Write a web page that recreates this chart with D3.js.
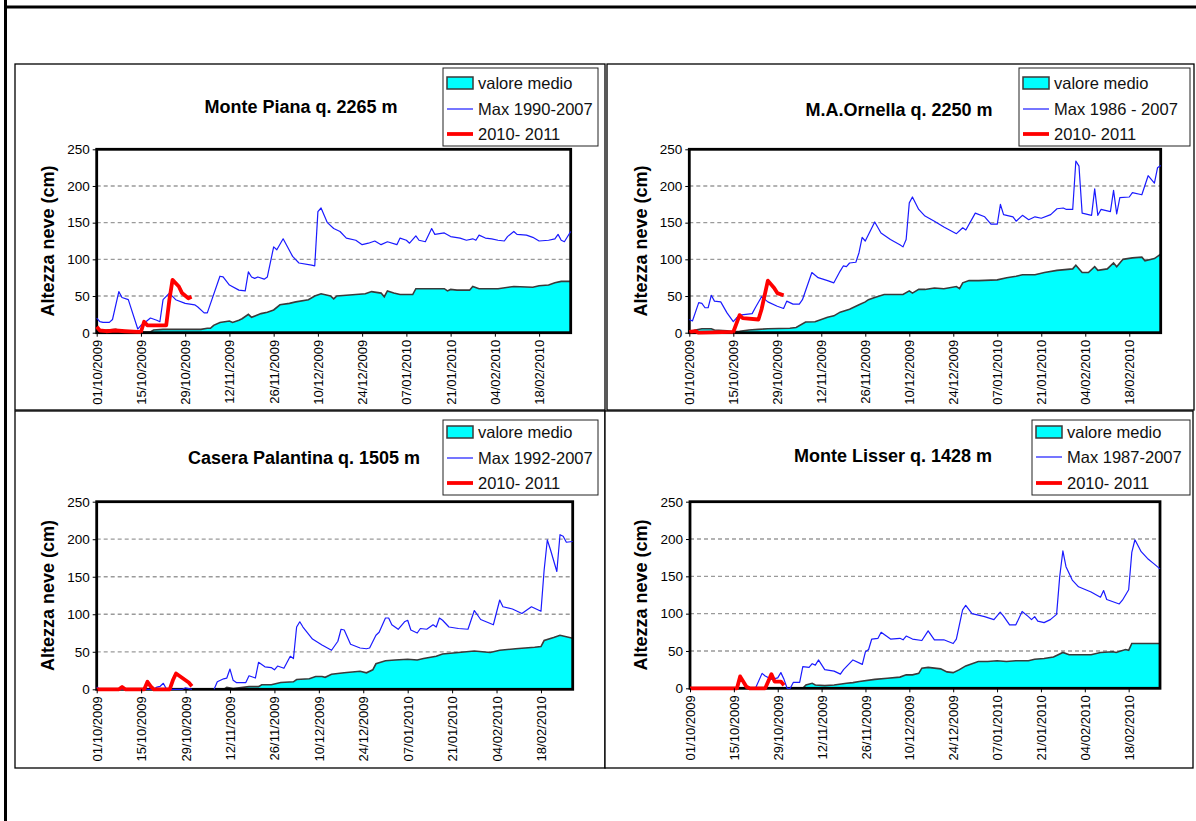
<!DOCTYPE html>
<html>
<head>
<meta charset="utf-8">
<script src="https://cdn.jsdelivr.net/npm/d3@7"></script>
<style>
  html, body { margin: 0; padding: 0; background: #fff; }
  svg { display: block; font-family: "Liberation Sans", Arial, sans-serif; }
</style>
</head>
<body>
<svg id="chart" width="1196" height="821"></svg>
<script>
// Snow depth (cm) at four stations, 1 Oct 2009 – 28 Feb 2010.
// Each series is a list of [day offset from 01/10, depth in cm].

const startDate = "01/10/2009";
const endDate = "28/02/2010";
const tickDates = ["01/10/2009", "15/10/2009", "29/10/2009", "12/11/2009", "26/11/2009",
  "10/12/2009", "24/12/2009", "07/01/2010", "21/01/2010", "04/02/2010", "18/02/2010"];
const yTicks = [0, 50, 100, 150, 200, 250];
const yGrid = [50, 100, 150, 200];
const yTitle = "Altezza neve (cm)";

const stationNames = ["Monte Piana q. 2265 m", "M.A.Ornella q. 2250 m",
  "Casera Palantina q. 1505 m", "Monte Lisser q. 1428 m"];
const meanLabel = "valore medio";
const maxLabels = ["Max 1990-2007", "Max 1986 - 2007", "Max 1992-2007", "Max 1987-2007"];
const seasonLabel = "2010- 2011";

// --- Monte Piana ---
const pianaMedio = [[0,3],[2,3],[6,4.5],[8,2],[13,2],[15,1],[17,1],[18,3.6],[21,4.5],[33,4.5],[35,6],[36,6],[37,10],[39,14],[42,16],[43,14],[45,17],[46,19],[48,25],[49,21],[52,26],[54,28],[56,31],[58,38],[61,40],[63,42],[67,45],[69,50],[71,53],[74,50],[75,46],[76,50],[79,51],[85,53],[87,56],[90,54],[91,49],[92,57],[94,54],[96,52],[100,52],[101,60],[110,60],[111,57],[112,59],[114,58],[118,58],[119,63],[121,60],[127,60],[132,63],[138,62],[140,64],[143,65],[145,68],[147,70],[150,70]];
const pianaMax = [[0,20],[1,15],[2,14],[4,14],[5,18],[7,56],[8,48],[10,45],[13,5],[14,10],[15,13],[17,20],[19,17],[20,15],[21,45],[23,54],[25,45],[28,40],[31,38],[32,35],[34,27],[35,27],[39,77],[40,76],[42,65],[45,58],[47,57],[48,83],[49,76],[50,74],[51,76],[53,73],[54,76],[56,117],[57,113],[59,128],[62,104],[64,95],[68,92],[69,91],[70,165],[71,170],[73,150],[75,142],[77,138],[79,129],[82,126],[84,120],[86,122],[88,125],[90,120],[92,124],[95,120],[96,129],[98,126],[99,122],[101,132],[102,126],[104,124],[106,142],[107,134],[110,136],[112,131],[115,129],[117,126],[119,128],[120,126],[121,133],[123,129],[125,128],[127,126],[129,125],[130,131],[132,138],[133,134],[136,133],[138,130],[140,125],[143,126],[145,128],[146,134],[147,126],[148,124],[150,138]];
const pianaNow = [[0,8],[1,3],[3,2],[6,3],[9,2],[13,1],[14,1],[15,15],[16,10],[19,10],[22,10],[23,45],[24,72],[26,63],[27,54],[29,47],[30,49]];

// --- M.A. Ornella ---
const ornellaMedio = [[0,1],[2,3.6],[4,5.4],[7,5.4],[8,3.6],[12,2.7],[14,1.4],[16,2],[19,3.6],[22,4.5],[25,5.4],[32,6],[34,7],[37,14.5],[40,15],[42,18],[44,21],[46,23],[48,28],[51,32],[54,38],[56,42],[57,45],[59,48],[62,52],[68,52],[70,57],[71,54],[73,59],[75,59],[78,61],[81,60],[85,63],[86,60],[87,68],[89,71],[92,71],[98,72],[101,75],[104,77],[106,79],[110,79],[113,82],[117,85],[122,87],[123,92],[125,82],[127,82],[129,90],[130,85],[133,87],[135,95],[136,90],[138,100],[141,102],[144,103],[145,98],[148,101],[150,107]];
const ornellaMax = [[0,18],[1,16],[3,41],[4,40],[5,34],[6,34],[7,51],[8,43],[10,42],[12,27],[14,15],[15,20],[16,24],[20,26],[21,34],[23,49],[25,42],[28,36],[30,33],[31,43],[33,39],[35,39],[36,45],[39,82],[41,75],[44,71],[46,68],[48,84],[49,91],[50,90],[51,95],[53,96],[54,109],[55,130],[56,125],[59,151],[61,136],[64,127],[67,120],[68,117],[69,127],[70,177],[71,185],[73,168],[75,159],[78,152],[81,144],[85,135],[87,143],[88,140],[91,163],[94,158],[96,148],[98,148],[99,175],[100,161],[103,158],[104,152],[106,160],[108,154],[110,158],[112,156],[115,161],[117,169],[119,170],[120,168],[122,168],[123,234],[124,227],[125,163],[128,160],[129,196],[130,160],[131,168],[134,165],[135,194],[136,162],[137,184],[140,185],[141,191],[144,188],[146,214],[148,204],[149,225],[150,228]];
const ornellaNow = [[0,1],[2,2],[3,0],[14,1],[16,24],[17,20],[22,18],[23,32],[25,71],[27,61],[28,54],[30,51]];

// --- Casera Palantina ---
const palantinaMedio = [[0,0],[40,0],[41,2.7],[43,1],[48,3.5],[51,3.5],[52,6],[55,6],[58,9],[62,10],[63,13],[67,14],[69,17],[71,17],[72,16],[74,20],[78,22],[83,24],[85,22],[87,26],[88,34],[91,38],[94,39],[98,40],[101,39],[103,41],[107,44],[109,47],[114,49],[119,51],[124,49],[127,52],[132,54],[138,56],[140,57],[141,65],[144,69],[146,72],[149,69],[150,68]];
const palantinaMax = [[0,3],[1,0],[18,0],[19,3],[20,4],[21,8],[22,0],[27,0],[28,2],[30,0],[33,null],[37,0],[38,10],[40,14],[41,15],[42,27],[43,12],[44,9],[47,9],[48,18],[50,15],[51,36],[53,30],[55,29],[56,26],[57,31],[59,28],[61,44],[62,41],[63,83],[64,90],[65,83],[68,67],[71,59],[74,52],[76,64],[77,80],[78,79],[80,60],[83,55],[85,54],[86,55],[88,72],[89,76],[91,95],[92,95],[93,86],[95,80],[97,90],[98,92],[99,79],[101,75],[102,81],[104,80],[106,86],[107,83],[108,95],[109,92],[111,83],[114,81],[117,80],[119,105],[121,93],[125,86],[127,119],[128,110],[131,107],[134,101],[137,110],[140,104],[141,159],[142,199],[143,186],[145,157],[146,206],[147,204],[148,196],[150,197]];
const palantinaNow = [[0,0],[7,0],[8,3],[9,0],[15,0],[16,10],[17,4],[18,0],[23,0],[24,12],[25,21],[27,15],[28,12],[29,9],[30,4]];

// --- Monte Lisser ---
const lisserMedio = [[0,0],[36,0],[37,4.5],[39,6.7],[40,4.5],[43,3.6],[46,4.5],[50,6.7],[52,7.6],[54,9],[59,12],[63,13.4],[67,15],[69,18],[71,18],[73,20],[74,27],[76,28],[80,26],[82,22],[84,21],[86,25],[88,30],[92,36],[95,36],[98,37],[101,36],[104,37],[108,37],[110,39],[113,40],[116,42],[118,46],[119,48],[121,45],[128,45],[131,48],[135,49],[136,48],[139,52],[140,51],[141,60],[150,60]];
const lisserMax = [[20,0],[21,1],[23,20],[24,16.5],[26,12],[28,14],[29,21],[30,12],[31,0],[32,0],[33,8],[35,8],[36,29],[38,28],[39,33],[40,31],[41,38],[43,25],[46,23],[48,19],[49,25],[52,38],[55,32],[56,49],[57,52],[58,66],[60,67],[61,75],[64,66],[67,67],[68,65],[69,70],[71,66],[74,64],[76,77],[78,65],[81,65],[84,60],[85,66],[87,105],[88,111],[90,100],[94,96],[97,92],[99,102],[100,97],[102,85],[104,85],[106,103],[108,96],[109,92],[110,96],[111,90],[113,88],[115,92],[117,99],[118,150],[119,184],[120,163],[122,145],[124,136],[128,129],[131,122],[132,131],[133,119],[137,113],[138,118],[140,132],[141,182],[142,199],[144,183],[146,174],[148,167],[150,160]];
const lisserNow = [[0,0],[15,0],[16,16],[18,2],[19,0],[24,0],[26,19],[27,9],[29,9],[30,4]];

// Panel geometry (page coordinates)
const panels = [
  { name: stationNames[0], max: maxLabels[0], medio: pianaMedio, maxS: pianaMax, now: pianaNow,
    box: [15, 64, 590, 346], plot: [96.7, 149.3, 570.7, 332.7], title: [301, 107],
    legend: [443, 68, 155, 78], rows: [83, 109, 134] },
  { name: stationNames[1], max: maxLabels[1], medio: ornellaMedio, maxS: ornellaMax, now: ornellaNow,
    box: [607, 64, 587, 346], plot: [689.3, 149.3, 1160.7, 332.7], title: [899, 110],
    legend: [1019, 68, 171, 78], rows: [83, 109, 134] },
  { name: stationNames[2], max: maxLabels[2], medio: palantinaMedio, maxS: palantinaMax, now: palantinaNow,
    box: [15, 411, 590, 357], plot: [96.7, 501.7, 572.7, 689.3], title: [304, 458],
    legend: [443, 420, 155, 75], rows: [432, 458, 483] },
  { name: stationNames[3], max: maxLabels[3], medio: lisserMedio, maxS: lisserMax, now: lisserNow,
    box: [605, 411, 588, 357], plot: [690, 501.7, 1160, 688.3], title: [893, 456],
    legend: [1032, 420, 158, 75], rows: [432, 457, 483] }
];

const parse = d3.utcParse("%d/%m/%Y");
const fmt = d3.utcFormat("%d/%m/%Y");
const t0 = parse(startDate), t1 = parse(endDate);
const toDate = d => d3.utcDay.offset(t0, d);

const svg = d3.select("#chart");

// Sheet border lines
svg.append("line").attr("x1", 5.5).attr("x2", 5.5).attr("y1", 0).attr("y2", 821)
  .attr("stroke", "#000").attr("stroke-width", 3);
svg.append("line").attr("x1", 4).attr("x2", 1196).attr("y1", 7).attr("y2", 7)
  .attr("stroke", "#000").attr("stroke-width", 3);

const COL_AREA = "#00FFFF", COL_EDGE = "#3a3a3a", COL_MAX = "#1a1aff", COL_NOW = "#FF0000";

panels.forEach(p => {
  const g = svg.append("g");
  const [bx, by, bw, bh] = p.box;
  g.append("rect").attr("x", bx).attr("y", by).attr("width", bw).attr("height", bh)
    .attr("fill", "#fff").attr("stroke", "#000").attr("stroke-width", 1.3);

  const [x0, y0, x1, y1] = p.plot;
  const x = d3.scaleUtc().domain([t0, t1]).range([x0, x1]);
  const y = d3.scaleLinear().domain([0, 250]).range([y1, y0]);

  // gridlines
  g.selectAll(".grid").data(yGrid).join("line")
    .attr("x1", x0).attr("x2", x1).attr("y1", d => y(d)).attr("y2", d => y(d))
    .attr("stroke", "#9a9a9a").attr("stroke-width", 1.3).attr("stroke-dasharray", "4,3");

  // mean (area)
  const area = d3.area().x(d => x(toDate(d[0]))).y0(y(0)).y1(d => y(d[1]));
  g.append("path").datum(p.medio).attr("d", area).attr("fill", COL_AREA);
  const edge = d3.line().x(d => x(toDate(d[0]))).y(d => y(d[1]));
  g.append("path").datum(p.medio).attr("d", edge).attr("fill", "none")
    .attr("stroke", COL_EDGE).attr("stroke-width", 1.6);

  // plot frame
  g.append("rect").attr("x", x0).attr("y", y0).attr("width", x1 - x0).attr("height", y1 - y0)
    .attr("fill", "none").attr("stroke", "#000").attr("stroke-width", 2.8);

  // historic maximum
  const line = d3.line().defined(d => d[1] !== null)
    .x(d => x(toDate(d[0]))).y(d => y(d[1]));
  g.append("path").datum(p.maxS).attr("d", line).attr("fill", "none")
    .attr("stroke", COL_MAX).attr("stroke-width", 1.2).attr("stroke-linejoin", "round");

  // current season
  g.append("path").datum(p.now).attr("d", line).attr("fill", "none")
    .attr("stroke", COL_NOW).attr("stroke-width", 3.8).attr("stroke-linejoin", "round");

  // y axis
  const yAxis = d3.axisLeft(y).tickValues(yTicks).tickSize(4).tickPadding(3);
  const ya = g.append("g").attr("transform", `translate(${x0},0)`).call(yAxis);
  ya.select(".domain").remove();
  ya.selectAll("line").attr("stroke", "#000").attr("stroke-width", 1);
  ya.selectAll("text").attr("font-size", 13.5).attr("fill", "#000")
    .attr("font-family", "Liberation Sans, Arial, sans-serif");

  // x axis
  const xAxis = d3.axisBottom(x).tickValues(tickDates.map(parse)).tickFormat(fmt).tickSize(4);
  const xa = g.append("g").attr("transform", `translate(0,${y1})`).call(xAxis);
  xa.select(".domain").remove();
  xa.selectAll("line").attr("stroke", "#000").attr("stroke-width", 1);
  xa.selectAll("text").attr("font-size", 13).attr("fill", "#000")
    .attr("font-family", "Liberation Sans, Arial, sans-serif")
    .attr("text-anchor", "end").attr("transform", "rotate(-90)")
    .attr("x", -7).attr("y", 0).attr("dy", "0.35em");

  // axis title
  g.append("text")
    .attr("transform", `translate(${x0 - 49},${(y0 + y1) / 2}) rotate(-90)`)
    .attr("text-anchor", "middle").attr("dy", "0.35em")
    .attr("font-size", 18).attr("font-weight", "bold").text(yTitle);

  // chart title
  g.append("text").attr("x", p.title[0]).attr("y", p.title[1]).attr("dy", "0.35em")
    .attr("text-anchor", "middle").attr("font-size", 18).attr("font-weight", "bold")
    .text(p.name);

  // legend
  const [lx, ly, lw, lh] = p.legend;
  const lg = g.append("g");
  lg.append("rect").attr("x", lx).attr("y", ly).attr("width", lw).attr("height", lh)
    .attr("fill", "#fff").attr("stroke", "#222").attr("stroke-width", 1);
  const sx = lx + 4, sw = 26, tx = lx + 35;
  lg.append("rect").attr("x", sx).attr("y", p.rows[0] - 6).attr("width", sw).attr("height", 12)
    .attr("fill", COL_AREA).attr("stroke", COL_EDGE).attr("stroke-width", 1.5);
  lg.append("line").attr("x1", sx).attr("x2", sx + sw).attr("y1", p.rows[1]).attr("y2", p.rows[1])
    .attr("stroke", COL_MAX).attr("stroke-width", 1.2);
  lg.append("line").attr("x1", sx).attr("x2", sx + sw).attr("y1", p.rows[2]).attr("y2", p.rows[2])
    .attr("stroke", COL_NOW).attr("stroke-width", 3.8);
  [meanLabel, p.max, seasonLabel].forEach((t, i) => {
    lg.append("text").attr("x", tx).attr("y", p.rows[i]).attr("dy", "0.35em")
      .attr("font-size", 16.5).attr("fill", "#111").text(t);
  });
});
</script>
</body>
</html>
